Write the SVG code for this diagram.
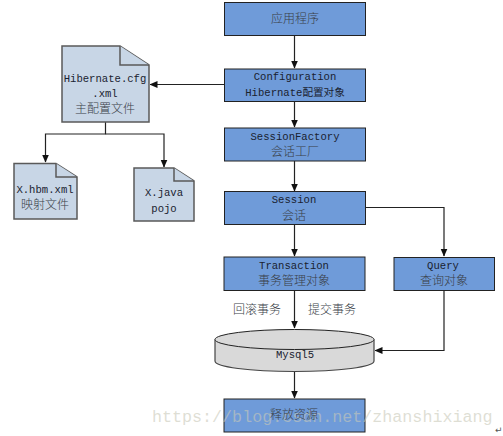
<svg xmlns="http://www.w3.org/2000/svg" width="503" height="436" viewBox="0 0 503 436">
<style>
.b{fill:#6f9bd9;stroke:#222;stroke-width:1}
.d{fill:#c8d6e6;stroke:#5a5a5a;stroke-width:1.5}
.t{font-family:"Liberation Mono","Noto Sans CJK SC",monospace;font-size:10.6px;fill:#1a2230;text-anchor:middle}
.c{font-family:"Noto Sans CJK SC",sans-serif;font-size:12px;font-weight:300;fill:#3a3f48;text-anchor:middle}
.l{fill:none;stroke:#222;stroke-width:1.2}
</style>
<defs><marker id="a" markerWidth="8" markerHeight="8" refX="7.500" refY="3.500" orient="auto" markerUnits="userSpaceOnUse"><path d="M0 0L8 3.500L0 7z" fill="#111"/></marker></defs>
<rect width="503" height="436" fill="#fff"/>
<g id="connectors">
<path class="l" marker-end="url(#a)" d="M294.500 35V68"/>
<path class="l" marker-end="url(#a)" d="M294.500 101V127"/>
<path class="l" marker-end="url(#a)" d="M294.500 161V191"/>
<path class="l" marker-end="url(#a)" d="M294.500 224V256"/>
<path class="l" marker-end="url(#a)" d="M294.500 290V328"/>
<path class="l" marker-end="url(#a)" d="M294.500 371V398"/>
<path class="l" marker-end="url(#a)" d="M224 84.500H150"/>
<path class="l" marker-end="url(#a)" d="M365 207.500H444V256"/>
<path class="l" marker-end="url(#a)" d="M444 290V350.500H375"/>
<path class="l" marker-end="url(#a)" d="M105.500 122V134H45.500V162"/>
<path class="l" marker-end="url(#a)" d="M105.500 134H164V167"/>
</g>
<g id="app"><rect class="b" x="224.500" y="2.500" width="141" height="33"/><text class="c" x="295" y="23">应用程序</text></g>
<g id="configuration"><rect class="b" x="224.500" y="69" width="141" height="32.500"/><text class="t" x="295" y="80">Configuration</text><text class="t" x="295" y="96">Hibernate配置对象</text></g>
<g id="sessionfactory"><rect class="b" x="224.500" y="128" width="141" height="33"/><text class="t" x="295" y="140">SessionFactory</text><text class="c" x="295" y="156">会话工厂</text></g>
<g id="session"><rect class="b" x="224.500" y="191.500" width="141" height="33"/><text class="t" x="294" y="203">Session</text><text class="c" x="294" y="220">会话</text></g>
<g id="transaction"><rect class="b" x="224" y="257" width="141" height="33.500"/><text class="t" x="294" y="269">Transaction</text><text class="c" x="294" y="285">事务管理对象</text></g>
<g id="query"><rect class="b" x="394" y="257.500" width="100.500" height="33"/><text class="t" x="443" y="269">Query</text><text class="c" x="444" y="285">查询对象</text></g>
<g id="mysql"><path d="M215 339.500V361C215 367 250 371.500 294.500 371.500S374 367 374 361V339.500" fill="#d9d9d9" stroke="#444" stroke-width="1.2"/><ellipse cx="294.500" cy="339.500" rx="79.500" ry="10" fill="#d9d9d9" stroke="#222" stroke-width="1"/><text class="t" x="295" y="358">Mysql5</text></g>
<g id="release"><rect class="b" x="224" y="399" width="141" height="33"/></g>
<g id="cfg"><path class="d" d="M62 46H120L149 65V122H62Z"/><path class="d" d="M120 46V65H149"/><text class="t" x="105" y="82">Hibernate.cfg</text><text class="t" x="105" y="97">.xml</text><text class="c" x="105" y="113">主配置文件</text></g>
<g id="hbm"><path class="d" d="M14 163.500H56L77 177V219H14Z"/><path class="d" d="M56 163.500V177H77"/><text class="t" x="45" y="193">X.hbm.xml</text><text class="c" x="45" y="209">映射文件</text></g>
<g id="java"><path class="d" d="M134 168H174L194 181V221H134Z"/><path class="d" d="M174 168V181H194"/><text class="t" x="164" y="196">X.java</text><text class="t" x="164" y="212">pojo</text></g>
<g id="labels"><text class="c" x="257" y="314">回滚事务</text><text class="c" x="332" y="314">提交事务</text></g>
<text x="152" y="422" font-family="Liberation Mono,monospace" font-size="16.700px" fill="#c9c9b8" fill-opacity=".6">https://blog.csdn.net/zhanshixiang</text>
<text class="c" x="294" y="419">释放资源</text>
<text x="495" y="433" font-family="DejaVu Sans,sans-serif" font-size="9px" fill="#555">↵</text>
</svg>
